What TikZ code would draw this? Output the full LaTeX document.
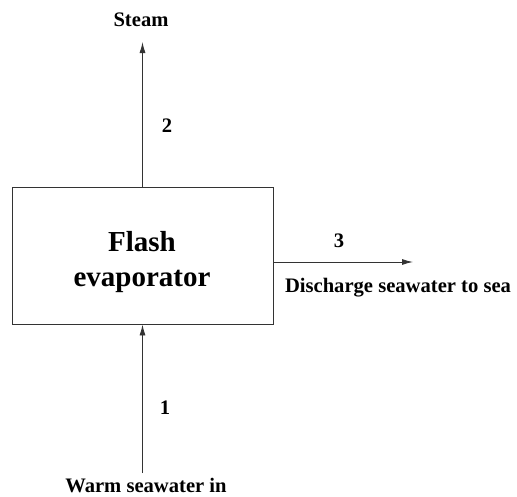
\documentclass[tikz,border=0pt]{standalone}
\usepackage{fontspec}
\setmainfont{Liberation Serif}
\usetikzlibrary{arrows.meta}
\begin{document}
\begin{tikzpicture}[x=1pt,y=-1pt,
 lbl/.style={font=\fontsize{20.6}{24}\selectfont\bfseries, inner sep=0pt, anchor=base},
 big/.style={font=\fontsize{29}{35}\selectfont\bfseries, inner sep=0pt, anchor=base},
 flow/.style={draw=black!80, line width=0.9pt, -{Latex[length=11pt,width=6pt]}},
 unitbox/.style={draw=black!80, line width=0.9pt, minimum width=261pt, minimum height=137pt, inner sep=0pt}]
\useasboundingbox[fill=white] (0,0) rectangle (517,496);
\node[unitbox] (evap) at (142.5,255.5) {};
\node[big] (flash) at (142,251) {Flash};
\node[big] (evaporator) at (142,286) {evaporator};
\node[lbl] (steam) at (141,26) {Steam};
\node[lbl] (n2) at (167,132) {2};
\node[lbl] (n3) at (339,247) {3};
\node[lbl] (n1) at (165,414) {1};
\node[lbl] (disch) at (398,292) {Discharge seawater to sea};
\node[lbl] (warm) at (146,492) {Warm seawater in};
\coordinate (steamtip) at (142.5,42);
\coordinate (warmstart) at (142.5,473);
\coordinate (dischtip) at (413,262);
\draw[flow] (evap.north) -- (steamtip);
\draw[flow] (warmstart) -- (evap.south);
\draw[flow] (evap.east |- dischtip) -- (dischtip);
\end{tikzpicture}
\end{document}
